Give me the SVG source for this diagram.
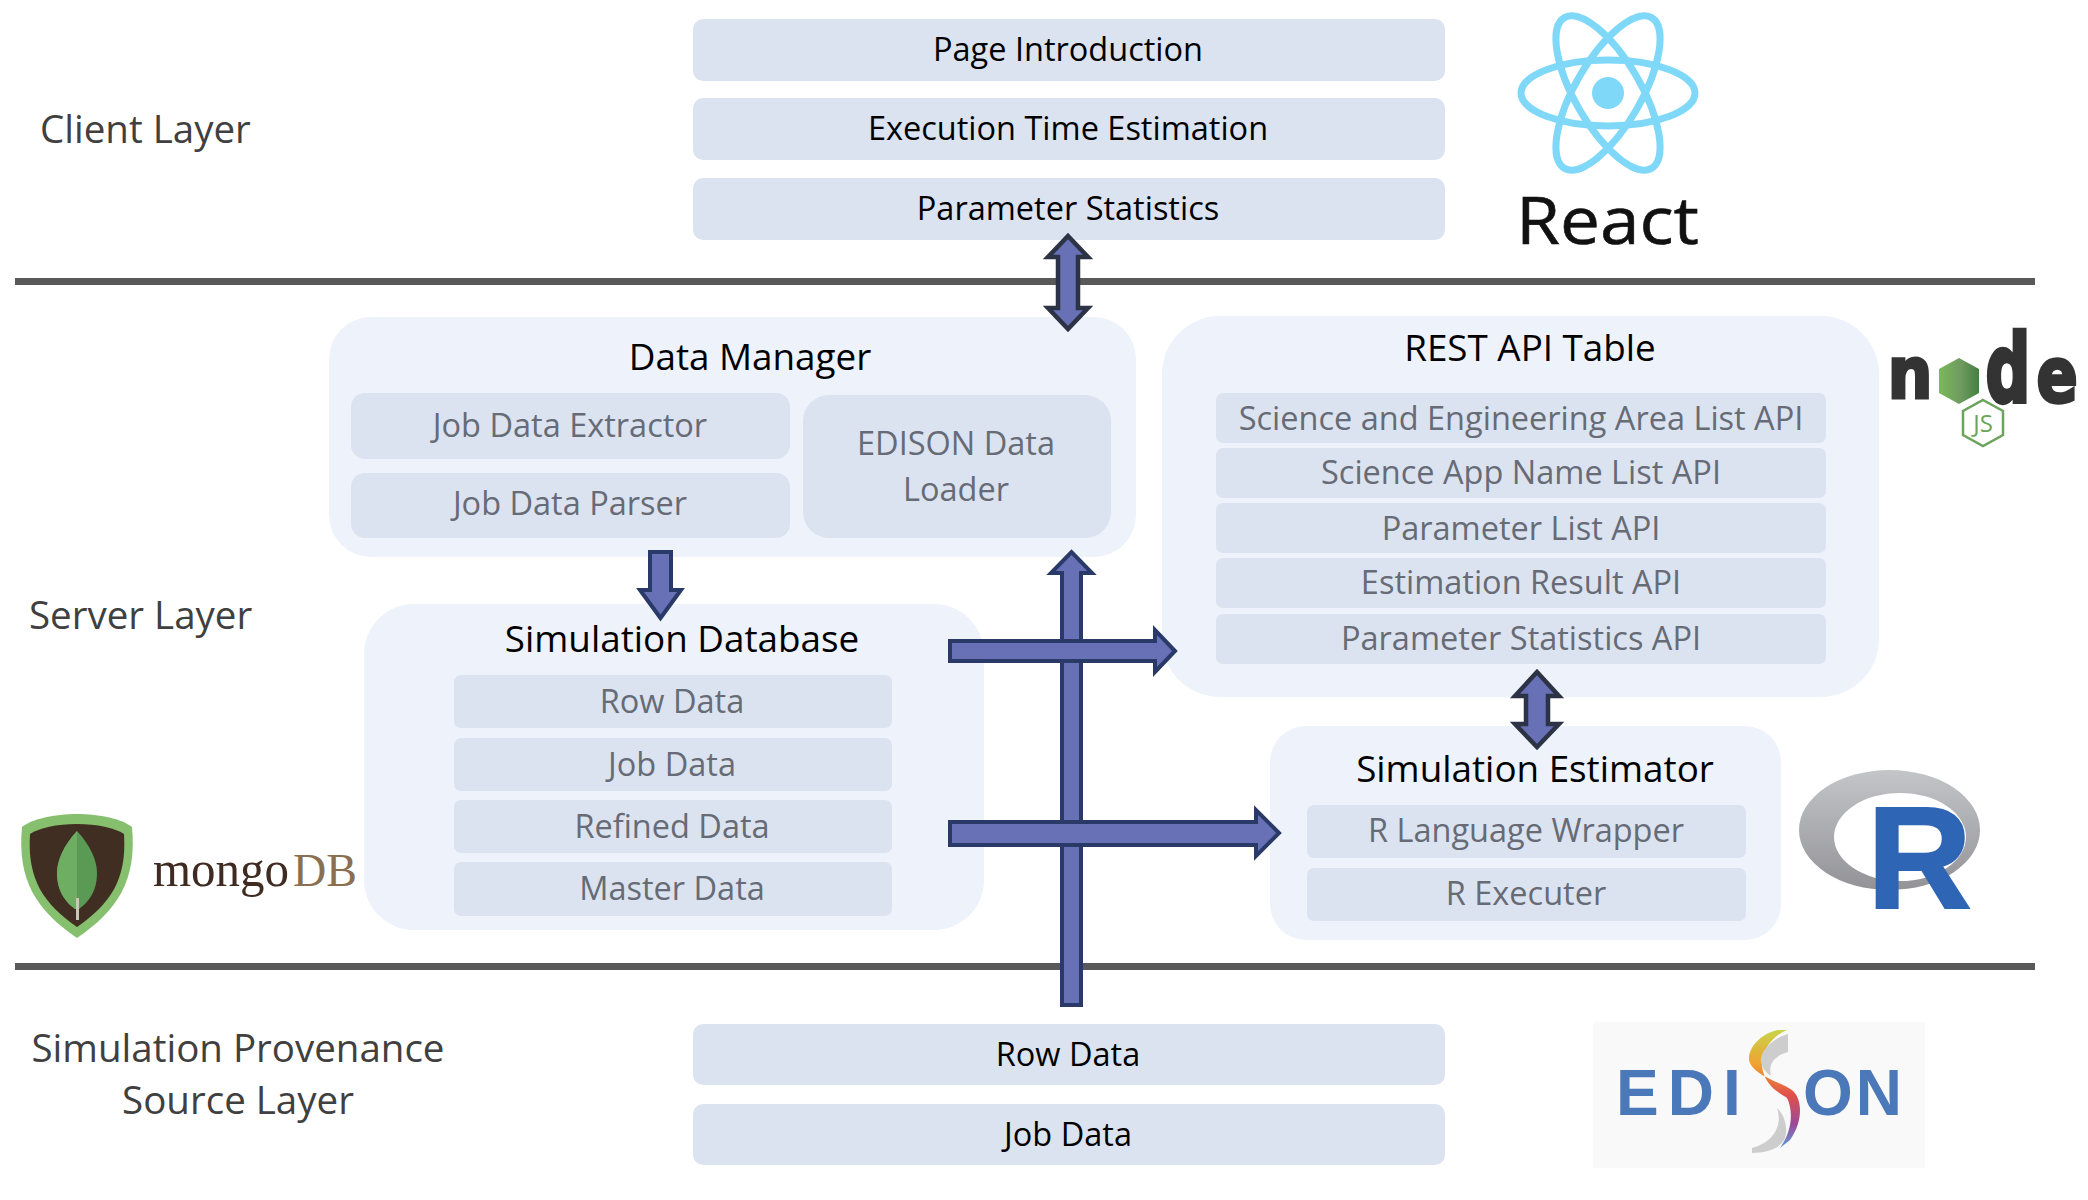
<svg xmlns="http://www.w3.org/2000/svg" width="2088" height="1200" viewBox="0 0 2088 1200">
<defs>
<linearGradient id="rg" x1="0" y1="0" x2="0" y2="1"><stop offset="0" stop-color="#c4c5c9"/><stop offset="1" stop-color="#929297"/></linearGradient>
<linearGradient id="sg" x1="0" y1="0" x2="0" y2="1"><stop offset="0" stop-color="#c9d44a"/><stop offset=".3" stop-color="#f0a030"/><stop offset=".55" stop-color="#e0504a"/><stop offset=".8" stop-color="#9a4a9a"/><stop offset="1" stop-color="#5aa0d8"/></linearGradient>
<linearGradient id="ng" x1="0" y1="0" x2="1" y2="0"><stop offset="0" stop-color="#7ab958"/><stop offset=".55" stop-color="#6f9a60"/><stop offset="1" stop-color="#43803f"/></linearGradient>
</defs>
<style>
text{font-family:"Open Sans","Noto Sans","Liberation Sans",sans-serif}
.m{text-anchor:middle}
.top{fill:#dce3f0}
.out{fill:#eef2fa}
.sub{fill:#dce3f0}
.k{font-size:32.500px;fill:#000;text-anchor:middle}
.g{font-size:32.500px;fill:#666b76;text-anchor:middle}
.t{font-size:36.800px;fill:#000;text-anchor:middle}
.l{font-size:38.500px;fill:#404040}
.ar{fill:#6870b6;stroke:#2a3a68;stroke-width:4}
.ad{fill:#6870b6;stroke:#2b3345;stroke-width:4.500}
.rule{fill:#595959}
.nd{font-family:"DejaVu Sans",sans-serif;font-weight:700;fill:#333;stroke:#333;stroke-width:3;text-anchor:middle}
</style>
<rect width="2088" height="1200" fill="#fff"/>
<rect class="rule" x="15" y="278" width="2020" height="7"/>
<rect class="rule" x="15" y="963" width="2020" height="7"/>

<g id="client-layer"><text class="l" x="40" y="143">Client Layer</text></g>
<g id="server-layer"><text class="l" x="29" y="629">Server Layer</text></g>
<g id="source-layer"><text class="l m" x="238" y="1062">Simulation Provenance</text><text class="l m" x="238" y="1114">Source Layer</text></g>

<g id="page-introduction"><rect class="top" x="693" y="19" width="752" height="62" rx="10"/><text class="k" x="1068" y="61">Page Introduction</text></g>
<g id="execution-time"><rect class="top" x="693" y="98" width="752" height="62" rx="10"/><text class="k" x="1068" y="140">Execution Time Estimation</text></g>
<g id="parameter-statistics"><rect class="top" x="693" y="178" width="752" height="62" rx="10"/><text class="k" x="1068" y="220">Parameter Statistics</text></g>

<g id="data-manager"><rect class="out" x="329" y="317" width="807" height="240" rx="42"/><text class="t" x="750" y="370">Data Manager</text>
<rect class="sub" x="351" y="393" width="439" height="66" rx="14"/><text class="g" x="570" y="437">Job Data Extractor</text>
<rect class="sub" x="351" y="473" width="439" height="65" rx="14"/><text class="g" x="570" y="515">Job Data Parser</text>
<rect class="sub" x="803" y="395" width="308" height="143" rx="26"/><text class="g" x="956" y="455">EDISON Data</text><text class="g" x="956" y="501">Loader</text></g>

<g id="rest-api-table"><rect class="out" x="1162" y="316" width="717" height="381" rx="58"/><text class="t" x="1530" y="361">REST API Table</text>
<rect class="sub" x="1216" y="393" width="610" height="50" rx="7"/><text class="g" x="1521" y="430">Science and Engineering Area List API</text>
<rect class="sub" x="1216" y="448" width="610" height="50" rx="7"/><text class="g" x="1521" y="484">Science App Name List API</text>
<rect class="sub" x="1216" y="503" width="610" height="50" rx="7"/><text class="g" x="1521" y="540">Parameter List API</text>
<rect class="sub" x="1216" y="558" width="610" height="50" rx="7"/><text class="g" x="1521" y="594">Estimation Result API</text>
<rect class="sub" x="1216" y="614" width="610" height="50" rx="7"/><text class="g" x="1521" y="650">Parameter Statistics API</text></g>

<g id="simulation-database"><rect class="out" x="364" y="604" width="620" height="326" rx="50"/><text class="t" x="682" y="652">Simulation Database</text>
<rect class="sub" x="454" y="675" width="438" height="53" rx="7"/><text class="g" x="672" y="713">Row Data</text>
<rect class="sub" x="454" y="738" width="438" height="53" rx="7"/><text class="g" x="672" y="776">Job Data</text>
<rect class="sub" x="454" y="800" width="438" height="53" rx="7"/><text class="g" x="672" y="838">Refined Data</text>
<rect class="sub" x="454" y="862" width="438" height="54" rx="7"/><text class="g" x="672" y="900">Master Data</text></g>

<g id="simulation-estimator"><rect class="out" x="1270" y="726" width="511" height="214" rx="36"/><text class="t" x="1535" y="782">Simulation Estimator</text>
<rect class="sub" x="1307" y="805" width="439" height="53" rx="7"/><text class="g" x="1526" y="842">R Language Wrapper</text>
<rect class="sub" x="1307" y="868" width="439" height="53" rx="7"/><text class="g" x="1526" y="905">R Executer</text></g>

<g id="row-data"><rect class="top" x="693" y="1024" width="752" height="61" rx="10"/><text class="k" x="1068" y="1066">Row Data</text></g>
<g id="job-data"><rect class="top" x="693" y="1104" width="752" height="61" rx="10"/><text class="k" x="1068" y="1146">Job Data</text></g>

<g id="connectors">
<path class="ad" d="M1068 236L1088 257H1078V308H1088L1068 329L1048 308H1058V257H1048Z"/>
<path class="ad" d="M1537 672L1559 696H1548V724H1559L1537 747L1515 724H1526V696H1515Z"/>
<path class="ar" d="M650 552H671V590H681L660.500 618L640 590H650Z"/>
<path class="ar" d="M1062 1005V573H1051L1071.500 552L1092 573H1081V1005Z"/>
<path class="ar" d="M950 641H1155V630L1175 651L1155 672V661H950Z"/>
<path class="ar" d="M950 822H1256V810L1279 833L1256 856V845H950Z"/>
</g>

<g id="react-logo">
<g fill="none" stroke="#80d8f8" stroke-width="7"><ellipse cx="1608" cy="93" rx="87" ry="33"/><ellipse cx="1608" cy="93" rx="87" ry="33" transform="rotate(60 1608 93)"/><ellipse cx="1608" cy="93" rx="87" ry="33" transform="rotate(120 1608 93)"/></g>
<circle cx="1608" cy="93" r="16" fill="#80d8f8"/>
<text x="1516" y="244" font-size="66" fill="#111" stroke="#111" stroke-width=".6" textLength="183" lengthAdjust="spacingAndGlyphs">React</text>
</g>

<g id="node-logo">
<text class="nd" font-size="66" transform="translate(1910 398) scale(.95 1.08)">n</text>
<path d="M1959 358L1979 369V393L1959 404L1939 393V369Z" fill="url(#ng)"/>
<text class="nd" font-size="66" transform="translate(2008 402) scale(.95 1.42)">d</text>
<text class="nd" font-size="66" transform="translate(2057 402) scale(.92 1.15)">e</text>
<path d="M1983 400L2003 411V435L1983 446L1963 435V411Z" fill="none" stroke="#6ba45a" stroke-width="2.500"/>
<text x="1983" y="432" font-size="24" fill="#6ba45a" class="m">JS</text>
</g>

<g id="mongodb-logo">
<path d="M77 814C100 814 122 819 132 827C137 880 118 910 77 938C36 910 17 880 22 827C32 819 54 814 77 814Z" fill="#86c06f"/>
<path d="M77 824C97 824 115 828 124 834C127 880 110 904 77 927C44 904 27 880 30 834C39 828 57 824 77 824Z" fill="#3f2e21"/>
<path d="M77 831C90 845 97 860 97 873C97 893 87 903 79 909H75C67 903 57 893 57 873C57 860 64 845 77 831Z" fill="#5b9a55"/>
<path d="M77 831C64 845 57 860 57 873C57 893 67 903 75 909H77Z" fill="#6eae62"/>
<rect x="76" y="898" width="3" height="22" fill="#c9c7b8"/>
<text x="153" y="886" font-size="50" fill="#3f2b22" textLength="136" lengthAdjust="spacingAndGlyphs" style="font-family:'Liberation Serif',serif">mongo</text>
<text x="293" y="886" font-size="46" fill="#8a7050" style="font-family:'Liberation Serif',serif">DB</text>
</g>

<g id="r-logo">
<path fill-rule="evenodd" d="M1799 830a90.500 60 0 1 0 181 0a90.500 60 0 1 0 -181 0ZM1834 837a66 44 0 1 0 132 0a66 44 0 1 0 -132 0Z" fill="url(#rg)"/>
<text x="1867" y="908" font-size="145" font-weight="700" fill="#2f65b5" stroke="#2f65b5" stroke-width="2" style="font-family:'Liberation Sans',sans-serif">R</text>
</g>

<g id="edison-logo">
<rect x="1593" y="1022" width="332" height="146" fill="#f9f9f9"/>
<text x="1616" y="1115" font-size="64" font-weight="700" fill="#4a78b8" letter-spacing="9" style="font-family:'Liberation Sans',sans-serif">EDI</text>
<text x="1803" y="1115" font-size="64" font-weight="700" fill="#4a78b8" letter-spacing="3" style="font-family:'Liberation Sans',sans-serif">ON</text>
<path d="M1787 1030C1772 1036 1762 1050 1762 1066C1764 1085 1778 1092 1787 1098C1793 1110 1793 1130 1780 1148L1790 1140C1804 1120 1802 1098 1792 1090C1780 1082 1752 1075 1749 1060C1748 1045 1765 1032 1778 1030Z" fill="url(#sg)"/>
<path d="M1788 1034C1776 1037 1759 1050 1761 1062C1763 1070 1767 1073 1771 1076C1768 1064 1774 1056 1788 1052Z" fill="#cdcdcd"/>
<path d="M1752 1148C1774 1142 1783 1125 1777 1108C1785 1115 1789 1130 1784 1140C1778 1150 1764 1153 1752 1153Z" fill="#cdcdcd"/>
</g>
</svg>
